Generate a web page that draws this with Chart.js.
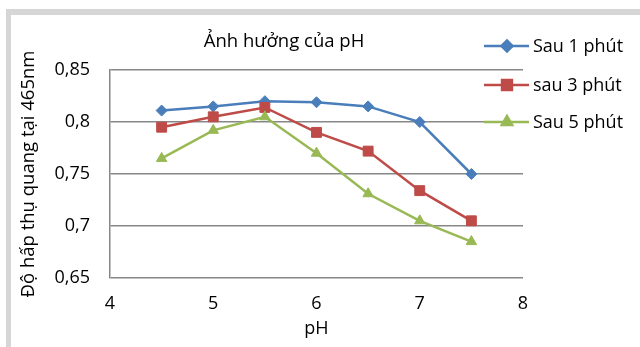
<!DOCTYPE html>
<html>
<head>
<meta charset="utf-8">
<script src="https://cdn.jsdelivr.net/npm/chart.js@4/dist/chart.umd.min.js"></script>
<style>
  html, body { margin: 0; padding: 0; background: #fff; }
  #c { display: block; }
</style>
</head>
<body>
<canvas id="c" width="640" height="347"></canvas>
<script>
// pH values and absorbance readings at 465 nm
const phValues = [4.5, 5, 5.5, 6, 6.5, 7, 7.5];
const after1min = [0.811, 0.815, 0.820, 0.819, 0.815, 0.800, 0.750];
const after3min = [0.795, 0.805, 0.814, 0.790, 0.772, 0.734, 0.705];
const after5min = [0.765, 0.792, 0.805, 0.770, 0.731, 0.705, 0.685];
const seriesNames = ['Sau 1 phút', 'sau 3 phút', 'Sau 5 phút'];
const chartTitle = 'Ảnh hưởng của pH';
const xTitle = 'pH';
const yTitle = 'Độ hấp thụ quang tại 465nm';
const xTicks = [4, 5, 6, 7, 8];
const yTicks = [0.65, 0.7, 0.75, 0.8, 0.85];

const FONT = '"Open Sans", "Noto Sans", sans-serif';
const GRID = '#878787';

function toPoints(ys) {
  return phValues.map((x, i) => ({ x, y: ys[i] }));
}

function makeSet(label, ys, color, style, radius, order) {
  return {
    label,
    data: toPoints(ys),
    borderColor: color,
    backgroundColor: color,
    pointBackgroundColor: color,
    pointBorderColor: color,
    pointStyle: style,
    pointRadius: radius,
    pointHoverRadius: radius,
    borderWidth: 2.5,
    pointBorderWidth: 1,
    showLine: true,
    tension: 0,
    order
  };
}

// frame, title and legend drawn around the plot
const decor = {
  id: 'decor',
  beforeDraw(chart) {
    const ctx = chart.ctx;
    ctx.save();
    ctx.fillStyle = '#ffffff';
    ctx.fillRect(0, 0, chart.width, chart.height);
    ctx.fillStyle = '#d6d6d6';
    ctx.fillRect(6, 9, chart.width - 6, 6);
    ctx.fillRect(6, 9, 5, chart.height - 9);
    ctx.restore();
  },
  afterDraw(chart) {
    const ctx = chart.ctx;
    ctx.save();
    ctx.fillStyle = '#000';
    ctx.font = '18.5px ' + FONT;
    ctx.textAlign = 'center';
    ctx.textBaseline = 'middle';
    ctx.fillText(chartTitle, 284, 42);

    ctx.font = '18px ' + FONT;
    const rows = [46, 85, 122];
    chart.data.datasets.forEach((ds, i) => {
      const y = rows[i];
      ctx.strokeStyle = ds.borderColor;
      ctx.lineWidth = ds.borderWidth;
      ctx.beginPath();
      ctx.moveTo(484, y);
      ctx.lineTo(529, y);
      ctx.stroke();
      ctx.fillStyle = ds.backgroundColor;
      Chart.helpers.drawPoint(ctx, {
        pointStyle: ds.pointStyle,
        radius: ds.pointRadius,
        borderWidth: 1,
        rotation: 0
      }, 507, y);
      ctx.fillStyle = '#000';
      ctx.textAlign = 'left';
      ctx.fillText(ds.label, 533, y + 1);
    });
    ctx.restore();
  }
};

new Chart(document.getElementById('c'), {
  type: 'scatter',
  data: {
    datasets: [
      makeSet(seriesNames[0], after1min, '#4a7ebb', 'rectRot', 5.5, 2),
      makeSet(seriesNames[1], after3min, '#be4b48', 'rect', 7, 1),
      makeSet(seriesNames[2], after5min, '#98b954', 'triangle', 6, 0)
    ]
  },
  options: {
    responsive: false,
    animation: false,
    events: [],
    layout: { padding: { left: 0, top: 70, right: 117, bottom: 0 } },
    plugins: {
      legend: { display: false },
      title: { display: false },
      tooltip: { enabled: false }
    },
    scales: {
      x: {
        type: 'linear',
        min: xTicks[0],
        max: xTicks[xTicks.length - 1],
        afterBuildTicks: (s) => { s.ticks = xTicks.map(v => ({ value: v })); },
        afterFit: (s) => { s.height = 69; },
        grid: { display: false, drawTicks: false },
        border: { display: false },
        ticks: {
          color: '#000',
          padding: 15,
          font: { family: FONT, size: 18 },
          maxRotation: 0
        },
        title: {
          display: true,
          text: xTitle,
          color: '#000',
          font: { family: FONT, size: 18 },
          padding: { top: 0, bottom: 7 }
        }
      },
      y: {
        type: 'linear',
        min: yTicks[0],
        max: yTicks[yTicks.length - 1],
        afterBuildTicks: (s) => { s.ticks = yTicks.map(v => ({ value: v })); },
        afterFit: (s) => { s.width = 110; },
        grid: { color: GRID, lineWidth: 1.5, drawTicks: false },
        border: { display: true, color: GRID, width: 1.5 },
        ticks: {
          color: '#000',
          padding: 20,
          font: { family: FONT, size: 18 },
          callback: (v) => String(Math.round(v * 100) / 100).replace('.', ',')
        },
        title: {
          display: true,
          text: yTitle,
          color: '#000',
          font: { family: FONT, size: 18.5 },
          padding: { top: 18, bottom: 0 }
        }
      }
    }
  },
  plugins: [decor]
});
</script>
</body>
</html>
